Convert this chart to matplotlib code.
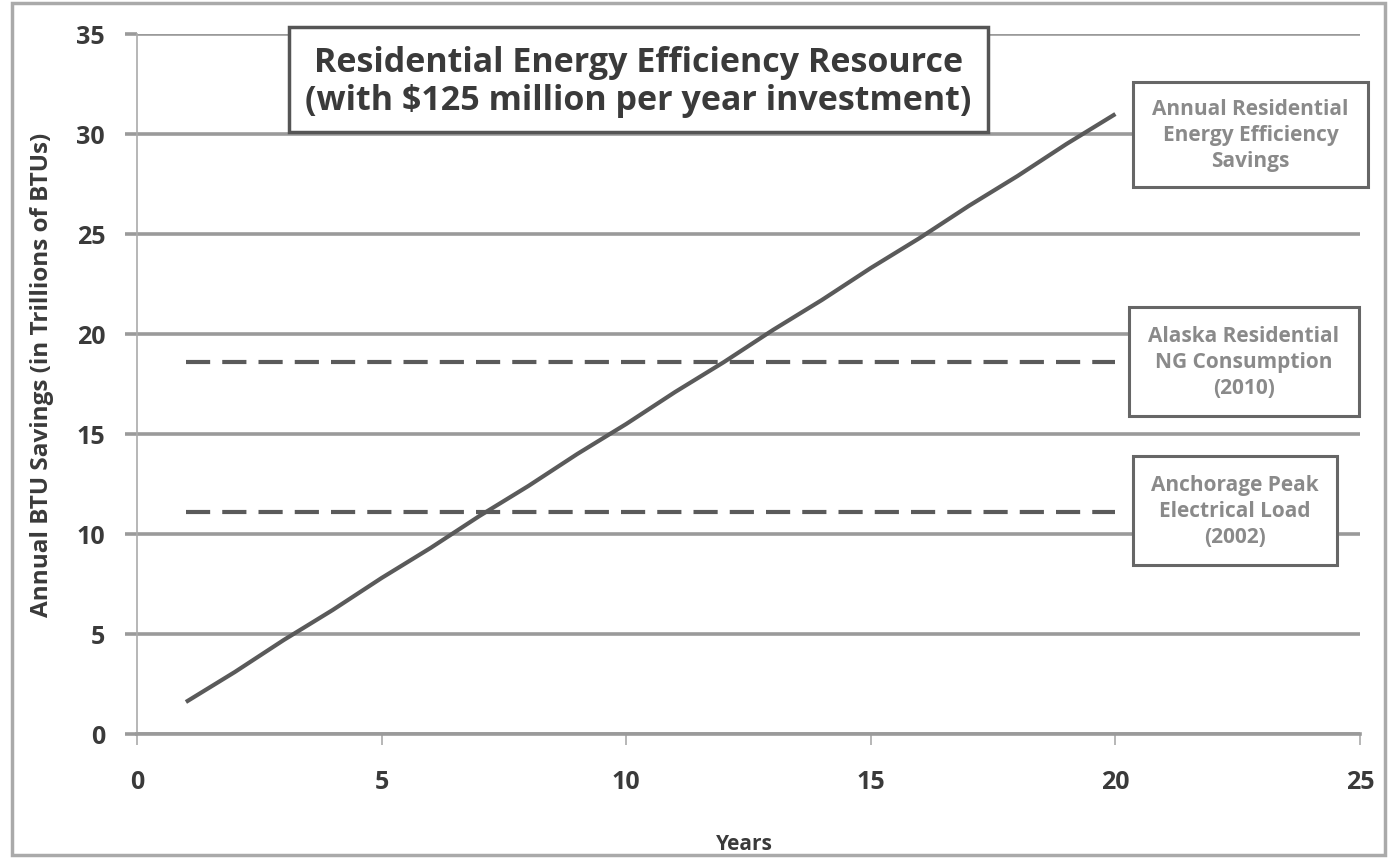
import matplotlib
matplotlib.use("Agg")
import matplotlib.pyplot as plt
from matplotlib.patches import Rectangle

years = [1, 2, 3, 4, 5, 6, 7, 8, 9, 10, 11, 12, 13, 14, 15, 16, 17, 18, 19, 20]
savings = [1.6, 3.1, 4.7, 6.2, 7.8, 9.3, 10.9, 12.4, 14.0, 15.5,
           17.1, 18.6, 20.2, 21.7, 23.3, 24.8, 26.4, 27.9, 29.5, 31.0]
ng_years = [1, 20]
ng_consumption = [18.6, 18.6]
peak_years = [1, 20]
peak_load = [11.1, 11.1]

title = "Residential Energy Efficiency Resource\n(with $125 million per year investment)"
label_savings = "Annual Residential\nEnergy Efficiency\nSavings"
label_ng = "Alaska Residential\nNG Consumption\n(2010)"
label_peak = "Anchorage Peak\nElectrical Load\n(2002)"

plt.rcParams['font.family'] = ['Open Sans', 'DejaVu Sans']

fig = plt.figure(figsize=(13.9, 8.62), dpi=100)
ax = fig.add_axes([137/1390, 1-735/862, (1360-137)/1390, (735-35)/862])

grid_c = "#9a9a9a"
ax.set_xlim(0, 25)
ax.set_ylim(0, 35)
ax.set_yticks(range(0, 36, 5))
ax.set_xticks(range(0, 26, 5))
ax.yaxis.grid(True, color=grid_c, lw=2.6, zorder=0)
ax.set_axisbelow(True)
for s in ["top", "right"]:
    ax.spines[s].set_visible(False)
ax.spines["left"].set_color("#aaaaaa")
ax.spines["left"].set_linewidth(1.2)
ax.spines["bottom"].set_color(grid_c)
ax.spines["bottom"].set_linewidth(2.6)
ax.tick_params(axis="y", length=9, width=2.6, color=grid_c, pad=14,
               labelsize=18, labelcolor="#3a3a3a")
ax.tick_params(axis="x", length=8, width=1.2, color="#aaaaaa", pad=17,
               labelsize=18, labelcolor="#3a3a3a")
for t in ax.get_xticklabels() + ax.get_yticklabels():
    t.set_fontweight("bold")

ax.plot(years, savings, color="#5a5a5a", lw=3, zorder=3, solid_capstyle="butt")
ax.plot(ng_years, ng_consumption, color="#5a5a5a", lw=3, ls=(0, (5.8, 2.9)), zorder=3)
ax.plot(peak_years, peak_load, color="#5a5a5a", lw=3, ls=(0, (5.8, 2.9)), zorder=3)

ax.set_ylabel("Annual BTU Savings (in Trillions of BTUs)", fontsize=17.5,
              fontweight="bold", color="#3a3a3a", va="center")
ax.set_xlabel("Years", fontsize=15, fontweight="bold", color="#3a3a3a", va="center")
ax.yaxis.set_label_coords(-0.078, 0.515)
ax.xaxis.set_label_coords(0.497, -0.157)

# title box
fig.patches.append(Rectangle((289/1390, 1-133/862), (988-289)/1390, (133-28)/862,
                             transform=fig.transFigure, facecolor="white",
                             edgecolor="#555555", lw=2.5, zorder=5))
fig.text((289+988)/2/1390, 1-82/862, title, ha="center", va="center",
         fontsize=24.5, fontweight="bold", color="#3a3a3a", linespacing=1.18, zorder=6)

boxes = [
    (1133, 83, 1368, 188, label_savings),
    (1129, 308, 1359, 417, label_ng),
    (1133, 457, 1337, 566, label_peak),
]
for x0, y0, x1, y1, txt in boxes:
    fig.patches.append(Rectangle((x0/1390, 1-y1/862), (x1-x0)/1390, (y1-y0)/862,
                                 transform=fig.transFigure, facecolor="white",
                                 edgecolor="#666666", lw=2.2, zorder=5))
    fig.text((x0+x1)/2/1390, 1-(y0+y1)/2/862, txt, ha="center", va="center",
             fontsize=15, fontweight="bold", color="#8a8a8a", linespacing=1.3, zorder=6)

# outer chart border
fig.patches.append(Rectangle((12/1390, 1-856/862), (1385-12)/1390, (856-4)/862,
                             transform=fig.transFigure, facecolor="none",
                             edgecolor="#aaaaaa", lw=2.5, zorder=0))

fig.savefig("out.png", dpi=100)
